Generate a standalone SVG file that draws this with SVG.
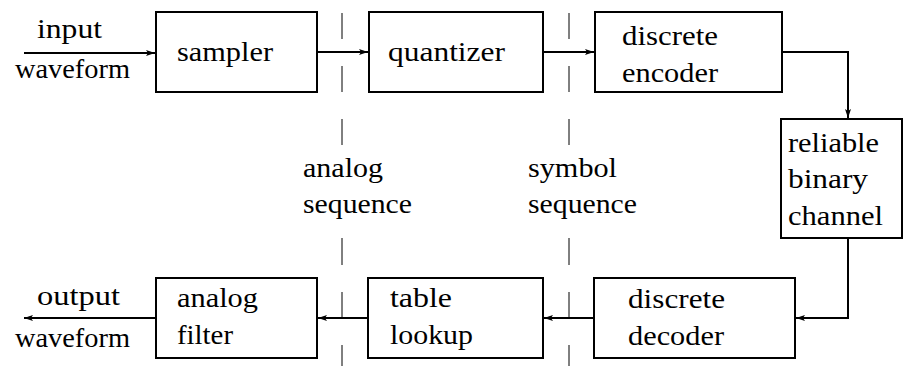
<svg xmlns="http://www.w3.org/2000/svg" width="904" height="366" viewBox="0 0 904 366">
<style>
.box{fill:#fff;stroke:#000;stroke-width:2}
.t{font-family:'Liberation Serif','Times New Roman','DejaVu Serif',serif;font-size:27px;fill:#000}
.c{fill:none;stroke:#000;stroke-width:2}
.d{stroke:#000;stroke-width:1}
</style>
<defs>
<marker id="ah" markerUnits="userSpaceOnUse" markerWidth="10" markerHeight="8" refX="9" refY="4" orient="auto">
<path d="M0,1 L9,4 L0,7 L2,4 Z" fill="#000"/>
</marker>
</defs>
<rect width="904" height="366" fill="#fff"/>
<g id="dividers">
<path class="d" d="M342,13V39M342,66V92M342,119V145M342,238V265M342,292V318M342,345V372"/>
<path class="d" d="M569,13V39M569,66V92M569,119V145M569,238V265M569,292V318M569,345V372"/>
</g>
<g id="connectors">
<path class="c" d="M24,53H155" marker-end="url(#ah)"/>
<path class="c" d="M317,52H368" marker-end="url(#ah)"/>
<path class="c" d="M543,52H594" marker-end="url(#ah)"/>
<path class="c" d="M782,52H848V118" marker-end="url(#ah)"/>
<path class="c" d="M848,238V318H796" marker-end="url(#ah)"/>
<path class="c" d="M594,318H544" marker-end="url(#ah)"/>
<path class="c" d="M368,318H318" marker-end="url(#ah)"/>
<path class="c" d="M156,318H24" marker-end="url(#ah)"/>
</g>
<g id="input-label">
<text class="t" x="37" y="38" textLength="65" lengthAdjust="spacingAndGlyphs">input</text>
<text class="t" x="15" y="78" textLength="115" lengthAdjust="spacingAndGlyphs">waveform</text>
</g>
<g id="sampler">
<rect class="box" x="156" y="12" width="161" height="80"/>
<text class="t" x="177" y="61" textLength="96" lengthAdjust="spacingAndGlyphs">sampler</text>
</g>
<g id="quantizer">
<rect class="box" x="369" y="12" width="174" height="80"/>
<text class="t" x="388" y="61" textLength="117" lengthAdjust="spacingAndGlyphs">quantizer</text>
</g>
<g id="encoder">
<rect class="box" x="595" y="12" width="187" height="80"/>
<text class="t" x="622" y="45" textLength="96" lengthAdjust="spacingAndGlyphs">discrete</text>
<text class="t" x="622" y="82" textLength="96" lengthAdjust="spacingAndGlyphs">encoder</text>
</g>
<g id="channel">
<rect class="box" x="781" y="119" width="121" height="119"/>
<text class="t" x="788" y="152" textLength="91" lengthAdjust="spacingAndGlyphs">reliable</text>
<text class="t" x="788" y="188" textLength="80" lengthAdjust="spacingAndGlyphs">binary</text>
<text class="t" x="788" y="225" textLength="95" lengthAdjust="spacingAndGlyphs">channel</text>
</g>
<g id="analog-sequence">
<text class="t" x="303" y="177" textLength="80" lengthAdjust="spacingAndGlyphs">analog</text>
<text class="t" x="303" y="213" textLength="109" lengthAdjust="spacingAndGlyphs">sequence</text>
</g>
<g id="symbol-sequence">
<text class="t" x="528" y="177" textLength="89" lengthAdjust="spacingAndGlyphs">symbol</text>
<text class="t" x="528" y="213" textLength="109" lengthAdjust="spacingAndGlyphs">sequence</text>
</g>
<g id="decoder">
<rect class="box" x="594" y="278" width="201" height="80"/>
<text class="t" x="628" y="308" textLength="97" lengthAdjust="spacingAndGlyphs">discrete</text>
<text class="t" x="628" y="345" textLength="96" lengthAdjust="spacingAndGlyphs">decoder</text>
</g>
<g id="table-lookup">
<rect class="box" x="368" y="278" width="175" height="80"/>
<text class="t" x="390" y="307" textLength="62" lengthAdjust="spacingAndGlyphs">table</text>
<text class="t" x="390" y="344" textLength="83" lengthAdjust="spacingAndGlyphs">lookup</text>
</g>
<g id="analog-filter">
<rect class="box" x="156" y="278" width="161" height="80"/>
<text class="t" x="177" y="307" textLength="81" lengthAdjust="spacingAndGlyphs">analog</text>
<text class="t" x="177" y="344" textLength="56" lengthAdjust="spacingAndGlyphs">filter</text>
</g>
<g id="output-label">
<text class="t" x="37" y="305" textLength="83" lengthAdjust="spacingAndGlyphs">output</text>
<text class="t" x="15" y="347" textLength="115" lengthAdjust="spacingAndGlyphs">waveform</text>
</g>
</svg>
